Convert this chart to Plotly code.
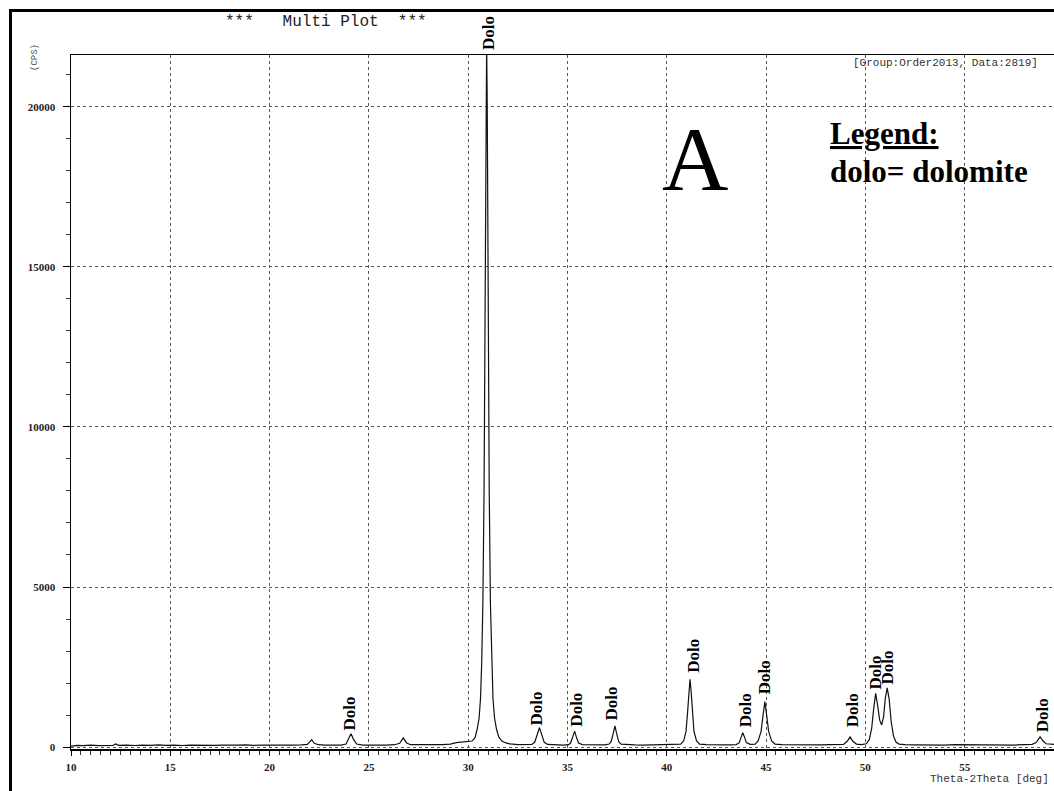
import plotly.graph_objects as go

two_theta = [10.0, 10.3, 10.6, 11.0, 11.4, 11.8, 12.1, 12.25, 12.4, 12.8, 13.2, 13.6, 14.0, 14.4, 14.8,
             15.2, 15.6, 16.0, 16.4, 16.8, 17.2, 17.6, 18.0, 18.4, 18.8, 19.2, 19.6, 20.0, 20.4, 20.8,
             21.2, 21.6, 21.9, 22.0, 22.12, 22.25, 22.45, 22.8, 23.2, 23.6, 23.85, 23.98, 24.1, 24.22,
             24.38, 24.7, 25.1, 25.5, 25.9, 26.3, 26.55, 26.73, 26.9, 27.1, 27.5, 27.9, 28.3, 28.7,
             29.1, 29.4, 29.7, 30.0, 30.2, 30.35, 30.45, 30.55, 30.62, 30.68, 30.74, 30.8, 30.86, 30.9,
             30.93, 30.96, 31.0, 31.06, 31.12, 31.18, 31.25, 31.33, 31.43, 31.55, 31.7, 31.9, 32.1,
             32.5, 32.9, 33.2,
             33.35, 33.45, 33.52, 33.59, 33.66, 33.73, 33.83, 34.0, 34.4, 34.8, 35.05, 35.15, 35.25,
             35.36, 35.46, 35.56, 35.75, 36.1, 36.5, 36.9, 37.1, 37.2, 37.3, 37.39, 37.48, 37.58, 37.7,
             38.0, 38.4, 38.8, 39.2, 39.6, 40.0, 40.4, 40.7, 40.85, 40.97, 41.05, 41.12, 41.17, 41.22,
             41.29, 41.37, 41.5, 41.65, 42.0, 42.4, 42.8, 43.2, 43.5, 43.65, 43.75, 43.83, 43.91, 44.01,
             44.2, 44.45, 44.6, 44.75, 44.85, 44.94, 45.03, 45.13, 45.28, 45.45, 45.8, 46.2, 46.6, 47.0,
             47.4, 47.8, 48.2, 48.6, 48.9, 49.1, 49.23, 49.36, 49.55, 49.8, 50.05, 50.2, 50.32, 50.42,
             50.52, 50.62, 50.72, 50.82, 50.92, 51.0, 51.1, 51.2, 51.3, 51.42, 51.55, 51.7, 52.0, 52.5,
             53.0, 53.5, 54.0, 54.5, 55.0, 55.5, 56.0, 56.5, 57.0, 57.5, 58.0, 58.4, 58.6, 58.8, 58.95,
             59.1, 59.5]
counts = [30, 55, 45, 60, 45, 55, 50, 100, 55, 60, 50, 65, 55, 70, 55,
          65, 50, 60, 55, 70, 55, 65, 55, 60, 70, 55, 65, 60, 55, 65,
          60, 70, 85, 150, 230, 120, 75, 65, 70, 65, 95, 240, 420, 250,
          95, 65, 60, 70, 65, 75, 120, 290, 130, 75, 70, 65, 75, 80,
          95, 140, 150, 160, 190, 300, 550, 900, 1500, 2600, 4500, 8000, 14000, 20000,
          22000, 20000, 14000, 8000, 4500, 2600, 1500, 900, 550, 300, 190, 130, 100,
          75, 70, 85,
          150, 310, 470, 610, 470, 310, 150, 85, 70, 65, 75, 120, 290,
          500, 290, 130, 80, 70, 75, 70, 95, 170, 410, 660, 410, 170, 95,
          75, 70, 65, 70, 65, 75, 70, 95, 190, 490, 1100, 1800, 2120, 1800,
          1100, 490, 190, 95, 75, 70, 65, 70, 80, 140, 320, 450, 320, 140,
          85, 95, 190, 490, 1000, 1420, 1000, 490, 190, 95, 75, 70, 65, 70,
          65, 70, 75, 70, 85, 190, 320, 190, 95, 80, 105, 240, 590, 1200,
          1680, 1300, 850, 690, 950, 1500, 1850, 1500, 800, 340, 150, 95, 75, 70,
          65, 70, 65, 75, 70, 65, 70, 75, 70, 65, 75, 85, 140, 320, 190,
          105, 85]

label_theta = [24.05, 31.0, 33.46, 35.41, 37.24, 41.33, 43.97, 44.89, 49.36, 50.53, 51.14, 58.93]
label_y = [455, 21615, 610, 565, 765, 2265, 545, 1585, 545, 1735, 1890, 390]
label_text = "Dolo"

x_ticks = [10, 15, 20, 25, 30, 35, 40, 45, 50, 55]
y_ticks = [0, 5000, 10000, 15000, 20000]

X_RANGE = [10, 59.5]
Y_RANGE = [-59, 21615]

fig = go.Figure()
fig.add_trace(go.Scatter(x=two_theta, y=counts, mode="lines",
                         line=dict(color="#111111", width=1.2), showlegend=False,
                         hoverinfo="skip"))

serif = "Liberation Serif, Times New Roman, serif"
mono = "Liberation Mono, Courier New, monospace"

annotations = []
for lx, ly in zip(label_theta, label_y):
    annotations.append(dict(x=lx, y=ly, xref="x", yref="y", text=label_text, textangle=-90,
                            showarrow=False, xanchor="center", yanchor="bottom",
                            yshift=3 if ly >= Y_RANGE[1] else 0,
                            font=dict(family=serif, size=17, color="black", weight=700)))

annotations += [
    dict(x=(326 - 71) / 983, y=(749 - 22) / 694, xref="paper", yref="paper",
         text="***   Multi Plot  ***", showarrow=False, xanchor="center", yanchor="middle",
         font=dict(family=mono, size=16, color="#222")),
    dict(x=(851 - 71) / 983, y=(749 - 63) / 694, xref="paper", yref="paper",
         text="[Group:Order2013, Data:2819]", showarrow=False, xanchor="left", yanchor="middle",
         font=dict(family=mono, size=11, color="#333")),
    dict(x=(928 - 71) / 983, y=(749 - 779) / 694, xref="paper", yref="paper",
         text="Theta-2Theta [deg]", showarrow=False, xanchor="left", yanchor="middle",
         font=dict(family=mono, size=11, color="#333")),
    dict(x=(35 - 71) / 983, y=(749 - 58) / 694, xref="paper", yref="paper",
         text="(CPS)", textangle=-90, showarrow=False, xanchor="center", yanchor="middle",
         font=dict(family=mono, size=9, color="#555")),
    dict(x=(695 - 71) / 983, y=(749 - 159) / 694, xref="paper", yref="paper",
         text="A", showarrow=False, xanchor="center", yanchor="middle",
         font=dict(family=serif, size=92, color="black")),
    dict(x=(828 - 71) / 983, y=(749 - 133) / 694, xref="paper", yref="paper",
         text="<u>Legend:</u>", showarrow=False, xanchor="left", yanchor="middle",
         font=dict(family=serif, size=31, color="black", weight=700)),
    dict(x=(828 - 71) / 983, y=(749 - 171) / 694, xref="paper", yref="paper",
         text="dolo= dolomite", showarrow=False, xanchor="left", yanchor="middle",
         font=dict(family=serif, size=31, color="black", weight=700)),
]

shapes = [dict(type="rect", xref="paper", yref="paper",
               x0=(10.5 - 71) / 983, x1=1.2, y0=-0.3, y1=(749 - 10.5) / 694,
               line=dict(color="black", width=3), fillcolor="rgba(0,0,0,0)", layer="above")]

tickfont = dict(family=serif, size=11, color="#222", weight=700)

fig.update_layout(
    width=1054, height=791,
    margin=dict(l=71, r=0, t=55, b=42),
    paper_bgcolor="white", plot_bgcolor="white",
    showlegend=False,
    annotations=annotations,
    shapes=shapes,
    xaxis=dict(range=X_RANGE, tickvals=x_ticks, ticktext=[str(v) for v in x_ticks],
               showline=True, linecolor="black", linewidth=1.5, mirror=True,
               ticks="outside", ticklen=5, tickcolor="black",
               showgrid=True, gridcolor="#555", griddash="dot", gridwidth=1,
               zeroline=False, tickfont=tickfont, ticklabelstandoff=2,
               minor=dict(dtick=0.5, ticks="outside", ticklen=4, tickcolor="#333", showgrid=False)),
    yaxis=dict(range=Y_RANGE, tickvals=y_ticks, ticktext=[str(v) for v in y_ticks],
               showline=True, linecolor="black", linewidth=1.5, mirror=False,
               ticks="outside", ticklen=7, tickcolor="black",
               showgrid=True, gridcolor="#555", griddash="dot", gridwidth=1,
               zeroline=False, tickfont=tickfont, ticklabelstandoff=5,
               minor=dict(dtick=1000, ticks="outside", ticklen=4, tickcolor="#333", showgrid=False)),
)

# remove the browser's default 8 px page margin so the figure fills the window exactly
fig.write_html("out.html",
               config={"displayModeBar": False, "staticPlot": True},
               post_script="document.body.style.margin='0px';document.body.style.overflow='hidden';")
